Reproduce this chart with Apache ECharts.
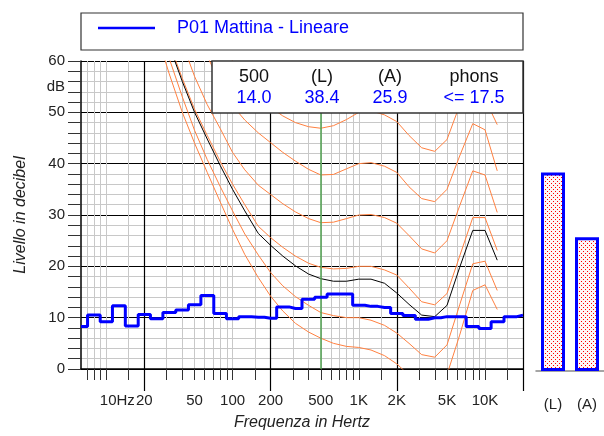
<!DOCTYPE html>
<html>
<head>
<meta charset="utf-8">
<script src="https://cdn.jsdelivr.net/npm/echarts@6/dist/echarts.min.js"></script>
<style>
html, body { margin: 0; padding: 0; background: #fff; }
#chart { width: 604px; height: 436px; }
</style>
</head>
<body>
<div id="chart"></div>
<script>
// 1/3 octave bands and measured levels (dB)
var bands = [6.3, 8, 10, 12.5, 16, 20, 25, 31.5, 40, 50, 63, 80, 100, 125, 160, 200, 250, 315, 400, 500,
    630, 800, 1000, 1250, 1600, 2000, 2500, 3150, 4000, 5000, 6300, 8000, 10000, 12500, 16000, 20000];
var levels = [8.3, 10.5, 9.2, 12.3, 8.4, 10.6, 9.8, 11.0, 11.5, 12.5, 14.3, 10.8, 9.8, 10.2, 10.1, 9.9, 12.1, 11.8, 13.6, 14.0,
    14.6, 14.6, 12.4, 12.2, 12.0, 10.8, 10.4, 9.7, 10.0, 10.2, 10.2, 8.3, 7.9, 9.2, 10.2, 10.5];

// equal loudness contours
var contourFreqs = [25, 31.5, 40, 50, 63, 80, 100, 125, 160, 200, 250, 315, 400, 500, 630, 800, 1000, 1250,
    1600, 2000, 2500, 3150, 4000, 5000, 6300, 8000, 10000, 12500];
var phon0 = [65.5, 57.5, 50.0, 44.0, 38.3, 32.5, 27.2, 22.3, 17.8, 14.2, 11.3, 8.9, 7.2, 6.0, 5.0, 4.4, 4.2, 3.7,
    2.6, 1.0, -1.2, -3.6, -3.9, -1.1, 6.6, 15.3, 16.4, 11.6];
var phon10 = [70, 60.5, 53, 46.5, 40.8, 35.5, 30.8, 26.3, 22.2, 18.8, 16.2, 14.1, 12.4, 11.0, 10.4, 10.0, 10.0, 9.5,
    8.5, 7.0, 5.0, 2.8, 2.3, 4.7, 12.5, 20.5, 21.0, 15.3];
var phon20 = [71.5, 63.5, 56.6, 50.6, 45.5, 40.4, 36.0, 32.0, 27.8, 25.6, 23.7, 22.0, 20.6, 19.8, 19.5, 19.6, 20.0, 20.0,
    19.3, 18.3, 15.8, 13.1, 12.5, 14.7, 22.0, 29.5, 29.5, 23.1];
var phon30 = [80, 71.5, 63.5, 57.0, 51.5, 46.8, 42.2, 38.8, 35.8, 34.0, 32.2, 30.6, 29.3, 28.5, 28.6, 29.3, 30.0, 30.1,
    29.5, 28.4, 26.0, 23.4, 22.6, 25.0, 31.8, 38.6, 37.8, 30.5];
var phon40 = [92, 84, 76, 68, 61.0, 55.5, 51.3, 48.5, 46.0, 44.1, 42.2, 40.5, 38.9, 37.8, 37.9, 39.0, 40.0, 40.2,
    39.5, 38.3, 35.5, 33.2, 32.6, 35.0, 41.5, 47.8, 46.6, 38.6];
var phon50 = [100, 92, 84, 77, 70, 64, 60, 57, 54, 51.0, 49.3, 48.0, 47.2, 46.9, 47.4, 48.6, 50.0, 50.3,
    49.5, 48.2, 45.5, 43.1, 42.4, 44.7, 51.4, 53.8, 52.6, 47.6];
var phonMeasured = [71, 63, 56, 50, 44.8, 39.6, 35.0, 30.8, 26.4, 24.1, 22.0, 20.1, 18.5, 17.6, 17.1, 17.1, 17.5, 17.5,
    16.7, 14.8, 12.6, 10.5, 10.2, 12.4, 19.8, 27.0, 27.0, 21.2];

// axis ticks
var minorTicks = [7, 8, 9, 10, 15, 30, 40, 50, 60, 70, 80, 90, 100, 150, 300, 400, 500, 600, 700, 800, 900,
    1000, 1500, 3000, 4000, 5000, 6000, 7000, 8000, 9000, 10000, 15000];
var majorTicks = [20, 200, 2000, 20000];
var labelFreqs = [10, 20, 50, 100, 200, 500, 1000, 2000, 5000, 10000];
var labelTexts = ['10Hz', '20', '50', '100', '200', '500', '1K', '2K', '5K', '10K'];

// summary box and bars
var boxHeads = ['500', '(L)', '(A)', 'phons'];
var boxValues = ['14.0', '38.4', '25.9', '<= 17.5'];
var barCats = ['(L)', '(A)'];
var barValues = [38.4, 25.9];

var seriesName = 'P01 Mattina - Lineare';
var FONT = 'Liberation Sans, Arial, sans-serif';

function pairs(xs, ys) {
    return xs.map(function(x, i) { return [x, ys[i]]; });
}

// red dotted fill for the bars
function dotPattern() {
    var c = document.createElement('canvas');
    c.width = 4;
    c.height = 4;
    var ctx = c.getContext('2d');
    ctx.fillStyle = '#fff6f6';
    ctx.fillRect(0, 0, 4, 4);
    ctx.fillStyle = '#ff0000';
    ctx.fillRect(1, 1, 1, 1);
    ctx.fillRect(3, 3, 1, 1);
    return c;
}

function contour(data, color) {
    return {
        type: 'line',
        xAxisIndex: 0,
        yAxisIndex: 0,
        data: pairs(contourFreqs, data),
        symbol: 'none',
        silent: true,
        z: 2,
        lineStyle: { color: color, width: 1 }
    };
}

var orange = '#ff8040';
var series = [
    contour(phon0, orange),
    contour(phon10, orange),
    contour(phon20, orange),
    contour(phon30, orange),
    contour(phon40, orange),
    contour(phon50, orange),
    contour(phonMeasured, '#000')
];
series[0].markLine = {
    silent: true,
    symbol: 'none',
    label: { show: false },
    lineStyle: { color: '#4fa04f', width: 1.5, type: 'solid' },
    data: [{ xAxis: 500 }]
};
series.push({
    name: seriesName,
    type: 'line',
    xAxisIndex: 0,
    yAxisIndex: 0,
    step: 'middle',
    data: pairs(bands, levels),
    symbol: 'none',
    z: 5,
    itemStyle: { color: '#0000ff' },
    lineStyle: { color: '#0000ff', width: 3 }
});
series.push({
    type: 'bar',
    xAxisIndex: 2,
    yAxisIndex: 2,
    data: barValues,
    barWidth: 24,
    silent: true,
    itemStyle: {
        color: { image: dotPattern(), repeat: 'repeat' },
        borderColor: '#0000ff',
        borderWidth: 3
    }
});

var graphic = [
    { type: 'rect', shape: { x: 81, y: 13, width: 442, height: 37 }, style: { fill: 'none', stroke: '#333', lineWidth: 1.2 }, z: 0 },
    { type: 'rect', shape: { x: 212, y: 61, width: 311, height: 52 }, style: { fill: '#fff', stroke: '#333', lineWidth: 1.5 }, z: 100 }
];
var boxX = [254, 322, 390, 474];
boxHeads.forEach(function(t, i) {
    graphic.push({ type: 'text', x: boxX[i], y: 77.5, z: 101,
        style: { text: t, fill: '#111', font: '18px ' + FONT, textAlign: 'center', textVerticalAlign: 'middle' } });
    graphic.push({ type: 'text', x: boxX[i], y: 98.5, z: 101,
        style: { text: boxValues[i], fill: '#0000ff', font: '18px ' + FONT, textAlign: 'center', textVerticalAlign: 'middle' } });
});

var option = {
    animation: false,
    backgroundColor: '#fff',
    textStyle: { fontFamily: FONT },
    legend: {
        data: [seriesName],
        left: 93,
        top: 14,
        icon: 'rect',
        itemWidth: 57,
        itemHeight: 2.5,
        textStyle: { color: '#0000ff', fontSize: 18, fontFamily: FONT, padding: [0, 0, 0, 17] }
    },
    grid: [
        { left: 81, right: 81, top: 61, bottom: 65 },
        { left: 536, right: 0, top: 61, bottom: 65 }
    ],
    xAxis: [{
        type: 'log',
        logBase: 10,
        min: 6.3,
        max: 20000,
        gridIndex: 0,
        position: 'bottom',
        axisLine: { show: true, lineStyle: { color: '#000', width: 1.5 } },
        axisTick: { show: true, length: 11, customValues: minorTicks, lineStyle: { color: '#333' } },
        axisLabel: {
            show: true,
            customValues: labelFreqs,
            margin: 24,
            fontSize: 15,
            color: '#222',
            fontFamily: FONT,
            formatter: function(v) {
                var best = 0;
                labelFreqs.forEach(function(f, i) {
                    if (Math.abs(Math.log(f / v)) < Math.abs(Math.log(labelFreqs[best] / v))) best = i;
                });
                return best === 0 ? '{hz|' + labelTexts[0] + '}' : labelTexts[best];
            },
            rich: { hz: { padding: [0, 0, 0, 22], fontSize: 15, color: '#222', fontFamily: FONT } }
        },
        splitLine: { show: true, lineStyle: { color: '#c8c8c8', width: 1 } },
        name: 'Frequenza in Hertz',
        nameLocation: 'middle',
        nameGap: 46,
        nameTextStyle: { fontStyle: 'italic', fontSize: 16, color: '#222', fontFamily: FONT }
    }, {
        type: 'log',
        logBase: 10,
        min: 6.3,
        max: 20000,
        gridIndex: 0,
        position: 'bottom',
        axisLine: { show: false },
        axisTick: { show: true, length: 22, customValues: majorTicks, lineStyle: { color: '#000', width: 1.2 } },
        axisLabel: { show: false },
        splitLine: { show: true, lineStyle: { color: '#000', width: 1.2 } }
    }, {
        type: 'category',
        gridIndex: 1,
        data: barCats,
        axisLine: { show: true, lineStyle: { color: '#888', width: 1.5 } },
        axisTick: { show: false },
        axisLabel: { margin: 26, fontSize: 15, color: '#222', fontFamily: FONT },
        splitLine: { show: false }
    }],
    yAxis: [{
        type: 'value',
        min: 0,
        max: 60,
        interval: 10,
        gridIndex: 0,
        position: 'left',
        axisLine: { show: true, lineStyle: { color: '#000', width: 1.5 } },
        axisTick: { show: true, length: 13, lineStyle: { color: '#333' } },
        minorTick: { show: true, splitNumber: 5, length: 13, lineStyle: { color: '#333' } },
        axisLabel: { margin: 16, fontSize: 15, color: '#222', fontFamily: FONT },
        splitLine: { show: true, lineStyle: { color: '#000', width: 1.2 } },
        minorSplitLine: { show: true, lineStyle: { color: '#c8c8c8', width: 1 } },
        name: 'Livello in decibel',
        nameLocation: 'middle',
        nameGap: 52,
        nameRotate: 90,
        nameTextStyle: { fontStyle: 'italic', fontSize: 16, color: '#222', fontFamily: FONT }
    }, {
        type: 'value',
        min: 0,
        max: 60,
        interval: 5,
        gridIndex: 0,
        position: 'left',
        axisLine: { show: false },
        axisTick: { show: false },
        splitLine: { show: false },
        axisLabel: {
            margin: 16, fontSize: 15, color: '#222', fontFamily: FONT,
            formatter: function(v) { return v === 55 ? 'dB' : ''; }
        }
    }, {
        type: 'value',
        min: 0,
        max: 60,
        gridIndex: 1,
        show: false
    }],
    graphic: graphic,
    series: series
};

var chart = echarts.init(document.getElementById('chart'));
chart.setOption(option);
</script>
</body>
</html>
